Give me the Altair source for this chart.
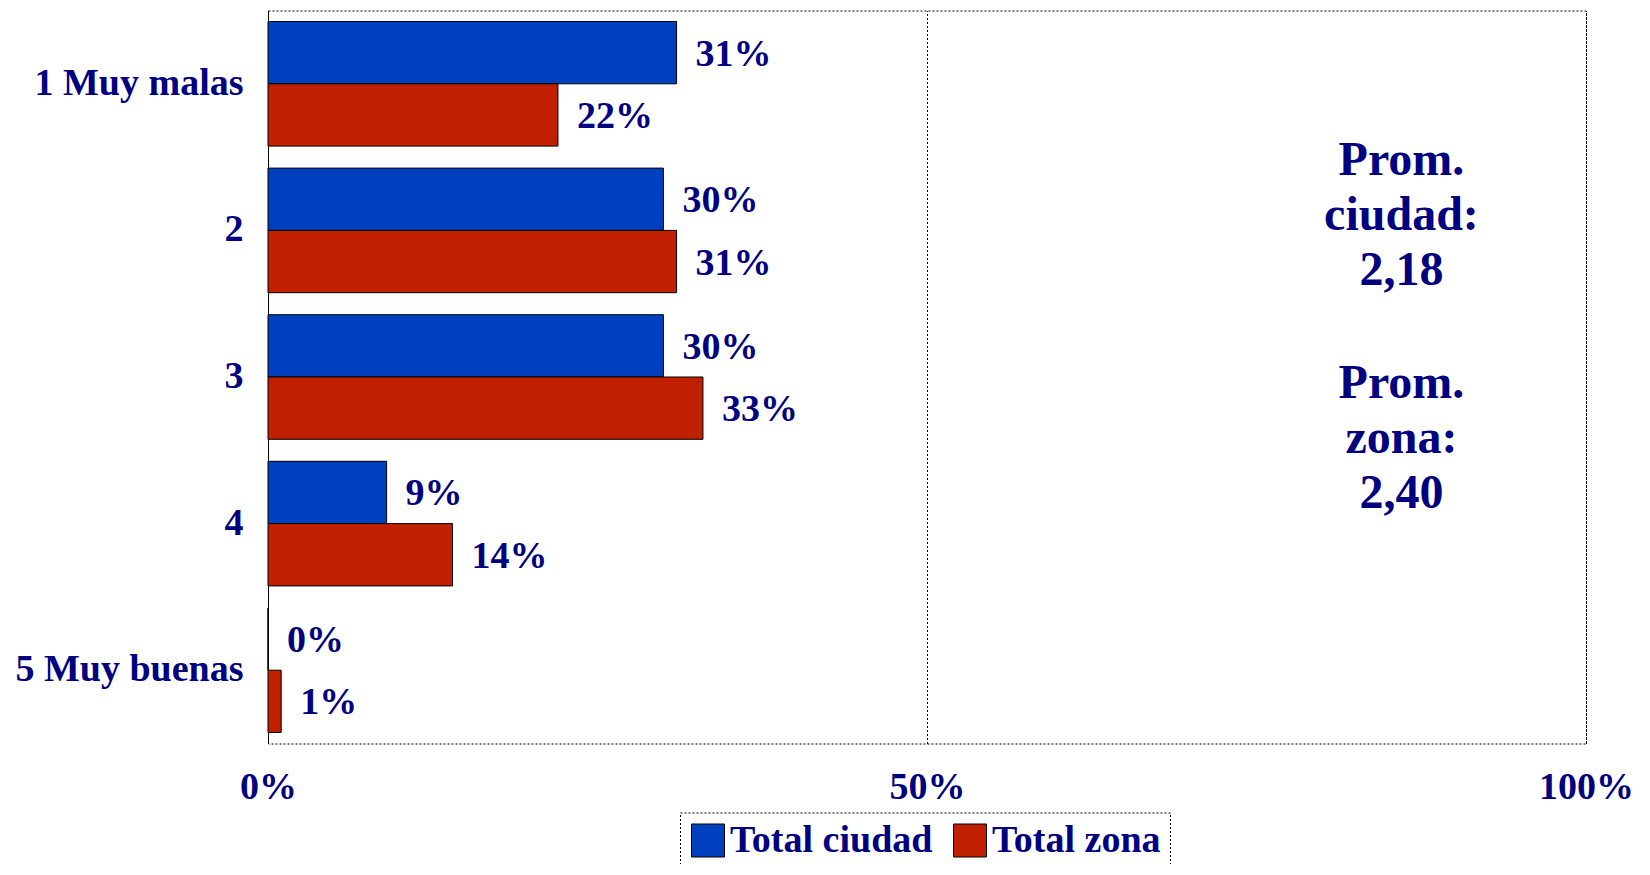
import altair as alt
import pandas as pd

categories = ["1 Muy malas", "2", "3", "4", "5 Muy buenas"]
series = ["Total ciudad", "Total zona"]
ciudad = [31, 30, 30, 9, 0]
zona = [22, 31, 33, 14, 1]
x_ticks = [0, 50, 100]
colors = ["#0040C0", "#C02000"]
note_texts = ["Prom.\nciudad:\n2,18", "Prom.\nzona:\n2,40"]
note_x = [86, 86]
note_ypix = [150, 373]

rows = []
for c, a, b in zip(categories, ciudad, zona):
    rows.append({"cat": c, "serie": series[0], "val": a})
    rows.append({"cat": c, "serie": series[1], "val": b})
df = pd.DataFrame(rows)
df["label"] = df["val"].astype(str) + "%"

notes = pd.DataFrame({"val": note_x, "ypix": note_ypix, "txt": note_texts})

FONT = "Liberation Serif"
NAVY = "#000080"
W, H = 1318, 733
FS = 38

y = alt.Y(
    "cat:N",
    sort=categories,
    scale=alt.Scale(paddingInner=0.15, paddingOuter=0.075),
    axis=alt.Axis(
        title=None, ticks=False, labelPadding=25, labelFontSize=FS, labelFont=FONT,
        labelFontWeight="bold", labelColor=NAVY, domain=True, domainColor="black",
        domainWidth=1, labelLimit=400, grid=False,
    ),
)
yoff = alt.YOffset("serie:N", sort=series, scale=alt.Scale(paddingInner=0, paddingOuter=0))
x = alt.X(
    "val:Q",
    scale=alt.Scale(domain=[0, 100], nice=False, zero=True),
    axis=alt.Axis(
        values=x_ticks, labelExpr="datum.value + '%'", title=None, ticks=False,
        labelPadding=25, labelFontSize=FS, labelFont=FONT, labelFontWeight="bold",
        labelColor=NAVY, grid=True, gridColor="black", gridDash=[2, 2], gridWidth=1,
        domain=False, labelFlush=False,
    ),
)
color = alt.Color(
    "serie:N",
    sort=series,
    scale=alt.Scale(domain=series, range=colors),
    legend=alt.Legend(
        title=None, orient="none", legendX=412, legendY=802, direction="horizontal",
        strokeColor="black", padding=9, symbolType="square",
        symbolSize=1089, symbolStrokeColor="black", symbolStrokeWidth=1,
        symbolOpacity=1, labelFontSize=FS, labelFont=FONT, labelFontWeight="bold",
        labelColor=NAVY, labelOffset=3, columnPadding=18, labelLimit=400,
    ),
)

bars = alt.Chart(df).mark_bar(stroke="black", strokeWidth=1, opacity=1).encode(
    x=x, y=y, yOffset=yoff, color=color
)
labels = alt.Chart(df).mark_text(
    align="left", baseline="middle", dx=19, dy=2, font=FONT, fontSize=FS,
    fontWeight="bold", color=NAVY,
).encode(x="val:Q", y=alt.Y("cat:N", sort=categories), yOffset=alt.YOffset("serie:N", sort=series), text="label:N")

note_layer = alt.Chart(notes).mark_text(
    align="center", baseline="middle", font=FONT, fontSize=48, fontWeight="bold",
    color=NAVY, lineBreak="\n", lineHeight=55,
).encode(x="val:Q", y=alt.Y("ypix:Q", scale=None, axis=None), text="txt:N")

chart = (
    alt.layer(bars, labels, note_layer)
    .properties(
        width=W, height=H,
        autosize=alt.AutoSizeParams(type="none"),
        padding={"left": 260, "top": 2.5, "right": 50, "bottom": 120},
        background="white",
    )
    .configure_view(stroke="black", strokeDash=[2, 2], strokeWidth=1)
    .configure_legend(strokeDash=[2, 2])
)

chart.save("out.html", embed_options={"renderer": "svg", "actions": False})
